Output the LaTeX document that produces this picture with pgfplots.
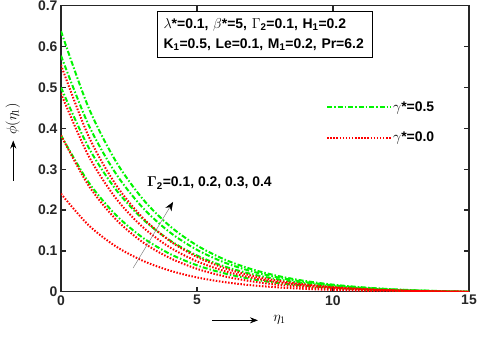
\documentclass[border=0pt]{standalone}
\usepackage{fontspec}
\setmainfont{Liberation Sans}
\usepackage{pgfplots}
\usepackage{pgfplotstable}
\pgfplotsset{compat=1.18}
\usetikzlibrary{arrows.meta}

\definecolor{axgray}{RGB}{38,38,38}
\definecolor{lgreen}{RGB}{0,245,0}
\definecolor{lred}{RGB}{255,0,0}

% gamma* = 0.5, Gamma_2 = 0.4, 0.3, 0.2, 0.1
\pgfplotstableread{
eta g4 g3 g2 g1
0 0.638 0.578 0.500 0.383
1 0.4530 0.4104 0.3550 0.2693
2 0.3213 0.2910 0.2518 0.1892
3 0.2276 0.2061 0.1783 0.1327
4 0.1609 0.1457 0.1261 0.0929
5 0.1134 0.1027 0.0888 0.0649
6 0.0795 0.0720 0.0623 0.0452
7 0.0555 0.0503 0.0435 0.0312
8 0.0384 0.0348 0.0301 0.0214
9 0.0262 0.0237 0.0205 0.0145
10 0.0175 0.0159 0.0137 0.0096
11 0.0114 0.0103 0.0089 0.0062
12 0.0069 0.0063 0.0054 0.0038
13 0.0038 0.0034 0.0030 0.0021
14 0.0016 0.0015 0.0013 0.0008
15 0 0 0 0
}\greendata

% gamma* = 0.0, Gamma_2 = 0.4, 0.3, 0.2, 0.1
\pgfplotstableread{
eta r4 r3 r2 r1
0 0.555 0.485 0.383 0.240
1 0.3827 0.3344 0.2616 0.1639
2 0.2637 0.2304 0.1785 0.1118
3 0.1815 0.1586 0.1216 0.0762
4 0.1246 0.1089 0.0828 0.0519
5 0.0854 0.0746 0.0562 0.0352
6 0.0583 0.0510 0.0380 0.0238
7 0.0396 0.0346 0.0256 0.0160
8 0.0267 0.0233 0.0171 0.0107
9 0.0178 0.0155 0.0113 0.0071
10 0.0116 0.0101 0.0073 0.0046
11 0.0074 0.0064 0.0046 0.0029
12 0.0044 0.0038 0.0028 0.0017
13 0.0024 0.0021 0.0015 0.0009
14 0.0009 0.0008 0.0006 0.0004
15 0 0 0 0
}\reddata

\pgfplotsset{
  gline/.style={lgreen, line width=2bp, dash pattern=on 5bp off 2bp on 1.5bp off 2bp, smooth},
  rline/.style={lred, line width=2bp, dash pattern=on 1.5bp off 1.6bp, smooth},
}

\begin{document}
\begin{tikzpicture}
\path[use as bounding box] (-61bp,-44.3bp) rectangle (419bp,291.8bp);
\begin{axis}[
  scale only axis,
  width=408bp, height=286bp,
  clip mode=individual,
  xmin=0, xmax=15, ymin=0, ymax=0.7,
  xtick={0,5,10,15},
  ytick={0,0.1,0.2,0.3,0.4,0.5,0.6,0.7},
  yticklabel style={/pgf/number format/.cd, fixed, fixed zerofill=false, precision=1},
  tick align=inside,
  major tick length=5bp,
  axis line style={axgray, line width=1.3bp},
  tick style={axgray, line width=1.3bp},
  tick label style={font=\fontsize{14}{16}\selectfont\bfseries, text=axgray},
  /pgf/number format/assume math mode=true,
  xlabel={$\eta_1$},
  ylabel={$\phi(\eta_1)$},
  xlabel style={at={(axis description cs:0.5355,-0.098)}, anchor=center, font=\fontsize{14}{16}\selectfont},
  ylabel style={at={(axis description cs:-0.118,0.6045)}, anchor=center, font=\fontsize{14}{16}\selectfont},
  legend style={draw=none, fill=none, inner sep=0pt,
    at={(axis description cs:0.6495,0.5916)}, anchor=west,
    row sep=17bp, font=\fontsize{14}{16}\selectfont\bfseries,
    nodes={inner sep=1bp}},
  legend cell align=left,
  legend image code/.code={\draw[#1] (0bp,0bp) -- (64bp,0bp);},
]
\addplot[gline] table[x=eta, y=g4] {\greendata};
\addlegendentry{$\gamma$*=0.5}
\addplot[gline, forget plot] table[x=eta, y=g3] {\greendata};
\addplot[gline, forget plot] table[x=eta, y=g2] {\greendata};
\addplot[gline, forget plot] table[x=eta, y=g1] {\greendata};

\addplot[rline] table[x=eta, y=r4] {\reddata};
\addlegendentry{$\gamma$*=0.0}
\addplot[rline, forget plot] table[x=eta, y=r3] {\reddata};
\addplot[rline, forget plot] table[x=eta, y=r2] {\reddata};
\addplot[rline, forget plot] table[x=eta, y=r1] {\reddata};

% arrows of the axis labels
\draw[line width=0.7bp, -{Stealth[length=8bp,width=6bp]}] (axis description cs:0.371,-0.0997) -- (axis description cs:0.4828,-0.0997);
\draw[line width=0.7bp, -{Stealth[length=8bp,width=6bp]}] (axis description cs:-0.117,0.389) -- (axis description cs:-0.117,0.529);

\draw[gray, line width=0.5bp, -{Stealth[black, length=9bp, width=7bp]}] (axis cs:2.65,0.058) -- (axis cs:4.12,0.22);
\node[anchor=west, inner sep=0pt, font=\fontsize{14}{16}\selectfont\bfseries] at (axis cs:3.16,0.266) {{\boldmath$\Gamma$}\textsubscript{2}=0.1, 0.2, 0.3, 0.4};

\node[draw=black, line width=1bp, fill=white, anchor=north west, align=left,
  text width=203bp, inner xsep=6bp, inner ysep=7bp,
  font=\fontsize{14}{20}\selectfont\bfseries] at (axis cs:3.53,0.687)
  {$\lambda$*=0.1, $\beta$*=5, $\Gamma$\textsubscript{2}=0.1, H\textsubscript{1}=0.2\\
   K\textsubscript{1}=0.5, Le=0.1, M\textsubscript{1}=0.2, Pr=6.2};
\end{axis}
\end{tikzpicture}
\end{document}
